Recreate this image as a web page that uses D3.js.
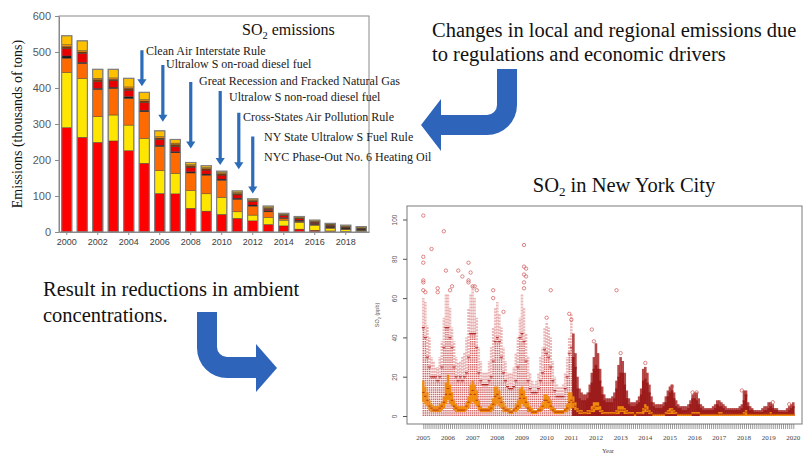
<!DOCTYPE html>
<html>
<head>
<meta charset="utf-8">
<script src="https://cdn.jsdelivr.net/npm/d3@7"></script>
<style>
  body { margin: 0; background: #fff; }
  svg { display: block; }
</style>
</head>
<body>
<svg id="fig" width="803" height="456"></svg>
<script>
// ---------- emissions bars (thousands of tons) ----------
var emisYears = [2000,2001,2002,2003,2004,2005,2006,2007,2008,2009,2010,2011,2012,2013,2014,2015,2016,2017,2018,2019];
var layerKeys = ['power', 'industry', 'heating', 'other', 'commercial', 'mobile', 'offroad', 'misc'];
var power      = [290,263,249,253,226,191,107,106,66,58,49,38,31,21,17,8,5,3,2,1];
var industry   = [153,163,71,72,71,69,63,57,49,48,47,18,16,19,16,19,14,7,5,3];
var heating    = [40,42,76,74,74,74,68,57,49,52,48,35,25,16,5,3,2,2,1,1];
var other      = [6,3,3,3,5,4,3,3,3,3,3,3,3,3,2,3,3,4,3,3];
var commercial = [21,25,19,18,18,21,16,14,13,11,11,9,9,4,6,4,3,2,2,1];
var mobile     = [5,4,5,4,5,5,4,6,4,4,4,4,3,3,2,2,2,2,2,2];
var offroad    = [5,4,4,4,4,4,4,4,3,3,3,3,2,2,1,1,1,1,1,1];
var misc       = [25,27,25,24,24,20,16,10,6,5,4,4,3,4,3,3,3,3,3,3];
var layerColors = ['#ff0000', '#ffe600', '#ff6a00', '#1a1a1a', '#e60000', '#7a3c00', '#ff8c00', '#ffc000'];
var barTicks = [0,100,200,300,400,500,600];
var barYearTicks = [2000,2002,2004,2006,2008,2010,2012,2014,2016,2018];

var notes = ['Clean Air Interstate Rule', 'Ultralow S on-road diesel fuel', 'Great Recession and Fracked Natural Gas',
             'Ultralow S non-road diesel fuel', 'Cross-States Air Pollution Rule', 'NY State Ultralow S Fuel Rule',
             'NYC Phase-Out No. 6 Heating Oil'];
// arrow: year position, top value, tip value (null = no arrow)
var noteArrowYear = [2004.85, 2006.2, 2008.0, 2009.9, 2011.1, 2012.0, null];
var noteArrowTop  = [505, 464, 417, 392, 331, 265, null];
var noteArrowTip  = [405, 306, 232, 186, 174, 107, null];

// ---------- NYC SO2 monthly boxplots (ppb), Jan 2005 .. Jan 2020 ----------
var scatYears = [2005,2006,2007,2008,2009,2010,2011,2012,2013,2014,2015,2016,2017,2018,2019,2020];
var boxLow = [
  7,6,5,3,2,2,2,2,2,3,4,6,
  8,6,5,3,2,2,2,2,2,3,4,6,
  7,6,5,3,2,2,2,2,2,2,3,5,
  6,5,4,2,2,2,1,1,2,2,3,4,
  6,5,4,2,2,1,1,1,2,2,3,4,
  4,4,3,2,1,1,1,1,1,2,2,3,
  4,4,3,2,1,1,1,1,1,1,2,2,
  3,3,2,1,1,1,1,1,1,1,1,1,
  2,2,1,1,1,1,1,0,1,1,1,1,
  2,2,1,1,0,0,0,0,0,0,1,1,
  1,1,1,1,0,0,0,0,0,0,0,1,
  1,1,1,0,0,0,0,0,0,0,0,0,
  0,0,0,0,0,0,0,0,0,0,0,0,
  0,0,0,0,0,0,0,0,0,0,0,0,
  0,0,0,0,0,0,0,0,0,0,0,0,
  0];
var boxMed = [
  12,10,8,5,4,3,3,3,4,5,7,11,
  14,11,8,5,4,3,3,3,3,5,7,11,
  13,11,8,5,3,3,3,3,3,4,6,10,
  11,9,7,4,3,3,2,2,3,4,5,9,
  11,9,7,4,3,2,2,2,3,3,5,8,
  8,7,5,3,2,2,2,2,2,3,4,7,
  8,7,5,3,2,2,1,1,2,2,3,4,
  5,5,3,2,1,1,1,1,1,1,2,3,
  3,3,3,2,1,1,1,1,1,1,1,3,
  4,3,2,1,1,1,1,1,1,1,1,2,
  2,3,2,1,1,1,1,1,1,1,1,1,
  1,1,1,1,1,1,1,1,1,1,1,1,
  1,1,1,1,1,1,1,1,1,1,1,1,
  1,2,1,1,1,1,1,1,1,1,1,1,
  1,1,1,1,1,1,1,1,1,1,1,1,
  1];
var boxHigh = [
  18,15,12,8,6,5,5,5,6,7,10,17,
  21,16,12,8,6,5,5,5,5,7,10,16,
  18,16,13,8,5,4,4,4,5,6,9,15,
  15,13,10,7,5,4,4,3,4,6,8,14,
  15,13,10,7,5,4,3,3,4,5,7,11,
  11,10,8,5,4,3,3,3,3,4,6,12,
  12,10,7,4,3,3,2,2,3,3,5,7,
  7,7,5,3,2,2,2,2,2,2,3,5,
  5,5,4,3,2,2,2,1,2,2,2,4,
  6,5,3,2,1,1,1,1,1,1,2,3,
  4,4,3,2,1,1,1,1,1,1,1,2,
  2,2,2,1,1,1,1,1,1,1,1,1,
  2,2,1,1,1,1,1,1,1,1,1,1,
  2,3,1,1,1,1,1,1,1,1,1,1,
  1,2,1,1,1,1,1,1,1,1,1,1,
  1];
var whiskerTop = [
  45,40,30,25,20,20,20,18,20,25,35,45,
  45,40,35,25,20,18,20,18,20,22,30,42,
  42,42,35,22,18,16,16,16,18,20,28,38,
  40,38,30,22,18,15,14,14,15,18,25,40,
  42,38,28,18,14,12,12,12,14,18,22,34,
  32,30,25,18,13,10,10,10,10,14,20,32,
  35,30,25,14,9,8,8,8,9,12,17,24,
  26,24,18,11,8,7,7,7,7,9,14,20,
  22,22,16,9,6,5,5,5,6,7,11,18,
  19,17,12,7,5,4,4,4,4,5,7,10,
  12,13,9,5,4,4,3,3,3,4,6,9,
  9,8,6,4,3,3,3,3,3,3,4,6,
  5,5,4,3,3,3,3,3,3,3,3,4,
  8,11,5,3,3,2,2,2,2,2,3,3,
  4,5,4,3,3,2,2,2,2,2,3,4,
  5];
var cloudTop = [
  60,58,46,40,30,28,25,25,30,38,50,62,
  62,55,45,38,30,27,28,30,32,40,55,62,
  66,60,50,35,28,22,22,22,28,35,45,55,
  58,52,45,35,28,22,22,22,25,32,40,50,
  62,55,42,30,22,18,16,18,22,30,35,45,
  48,45,40,28,20,16,15,15,16,22,30,40,
  52,42,32,20,14,12,11,11,12,16,22,30,
  37,32,24,15,11,9,9,9,10,12,18,26,
  30,28,22,13,9,7,7,7,8,10,14,24,
  25,22,16,10,7,6,6,6,6,7,10,13,
  15,16,12,8,6,5,5,5,5,6,8,11,
  12,12,9,6,5,4,4,4,4,5,6,8,
  8,7,6,5,4,4,4,4,4,4,5,6,
  13,13,7,5,4,3,3,3,3,4,5,5,
  7,7,6,4,4,3,3,3,3,4,5,6,
  7];
// isolated high readings: [month index from Jan 2005, ppb]
var outliers = [[0,102],[0,81],[0,78],[0,69],[0,68],[0,64],[1,63],[4,85],[10,94],[11,74],[7,65],[7,63],
  [13,64],[14,66],[17,74],[19,71],[22,78],[22,69],[22,68],[23,73],[24,66],[25,66],[26,64],[34,64],[34,60],
  [39,53],[49,87],[49,76],[50,75],[49,72],[50,71],[49,68],[49,65],[62,64],[94,64],[60,50],[71,52],[72,49],
  [82,44],[83,38],[96,32],[108,27],[121,15],[131,12],[133,12],[155,13],[170,7],[178,6]];
var denseFrom = 73;   // hourly record becomes dense from Feb 2011
var scatTicks = [0,20,40,60,80,100];

var serif = '"Liberation Serif", "Times New Roman", serif';
var sans = '"Liberation Sans", Arial, sans-serif';
var svg = d3.select('#fig');

// ================= bar chart =================
var bx0 = 59, bx1 = 369, byTop = 16, byBot = 232;
var xBar = d3.scaleBand().domain(emisYears).range([bx0, bx1]).paddingInner(0.34).paddingOuter(0.17);
var yBar = d3.scaleLinear().domain([0, 600]).range([byBot, byTop]);
var yearPos = d3.scaleLinear().domain([2000, 2019])
  .range([xBar(2000) + xBar.bandwidth() / 2, xBar(2019) + xBar.bandwidth() / 2]);

var layers = [power, industry, heating, other, commercial, mobile, offroad, misc];
var rows = emisYears.map(function(y, i) {
  var r = { year: y };
  layerKeys.forEach(function(k, j) { r[k] = layers[j][i]; });
  return r;
});
var stacked = d3.stack().keys(layerKeys)(rows);

var gBar = svg.append('g');
gBar.selectAll('g.layer')
  .data(stacked)
  .enter()
  .append('g')
  .attr('fill', function(d, i) { return layerColors[i]; })
  .selectAll('rect')
  .data(function(d) { return d; })
  .enter()
  .append('rect')
  .attr('x', function(d) { return xBar(d.data.year); })
  .attr('y', function(d) { return yBar(d[1]); })
  .attr('width', xBar.bandwidth())
  .attr('height', function(d) { return yBar(d[0]) - yBar(d[1]); })
  .attr('stroke', '#3a3a3a')
  .attr('stroke-width', 0.4);

// outline of each bar
gBar.selectAll('rect.outline')
  .data(stacked[stacked.length - 1])
  .enter()
  .append('rect')
  .attr('class', 'outline')
  .attr('x', function(d) { return xBar(d.data.year); })
  .attr('y', function(d) { return yBar(d[1]); })
  .attr('width', xBar.bandwidth())
  .attr('height', function(d) { return yBar(0) - yBar(d[1]); })
  .attr('fill', 'none')
  .attr('stroke', '#808080')
  .attr('stroke-width', 1.2);

// frame
gBar.append('rect')
  .attr('x', bx0).attr('y', byTop)
  .attr('width', bx1 - bx0).attr('height', byBot - byTop)
  .attr('fill', 'none').attr('stroke', '#8a8a8a').attr('stroke-width', 1);

var yAxisBar = gBar.append('g')
  .attr('transform', 'translate(' + bx0 + ',0)')
  .call(d3.axisLeft(yBar).tickValues(barTicks).tickSize(4).tickPadding(4).tickSizeOuter(0));
yAxisBar.selectAll('text').attr('font-family', sans).attr('font-size', 11).attr('fill', '#595959');

var xAxisBar = gBar.append('g')
  .attr('transform', 'translate(0,' + byBot + ')')
  .call(d3.axisBottom(xBar).tickValues(barYearTicks).tickSize(3).tickPadding(4).tickSizeOuter(0));
xAxisBar.selectAll('text').attr('font-family', sans).attr('font-size', 9).attr('fill', '#404040');
[yAxisBar, xAxisBar].forEach(function(a) {
  a.select('.domain').attr('stroke', '#8a8a8a');
  a.selectAll('.tick line').attr('stroke', '#8a8a8a');
});

gBar.append('text')
  .attr('transform', 'translate(22,' + 124 + ') rotate(-90)')
  .attr('text-anchor', 'middle')
  .attr('font-family', serif).attr('font-size', 14).attr('fill', '#111')
  .text('Emissions (thousands of tons)');

var t1 = gBar.append('text')
  .attr('x', 242).attr('y', 35)
  .attr('font-family', serif).attr('font-size', 16).attr('fill', '#111');
t1.append('tspan').text('SO');
t1.append('tspan').attr('font-size', 10.5).attr('dy', 4).text('2');
t1.append('tspan').attr('dy', -4).text(' emissions');

// annotations
var noteX = [146, 166, 199, 229, 243, 264, 264];
var noteY = [55, 68, 84.5, 101, 121, 141, 160.5];
gBar.selectAll('text.note')
  .data(notes)
  .enter()
  .append('text')
  .attr('class', 'note')
  .attr('x', function(d, i) { return noteX[i]; })
  .attr('y', function(d, i) { return noteY[i]; })
  .attr('font-family', serif).attr('font-size', 12).attr('fill', '#1a1a1a')
  .text(function(d) { return d; });

function arrowPath(x, yTop, yTip) {
  var hw = 1.6, head = 4.6, hl = 7;
  return 'M' + (x - hw) + ',' + yTop + 'L' + (x + hw) + ',' + yTop +
    'L' + (x + hw) + ',' + (yTip - hl) + 'L' + (x + head) + ',' + (yTip - hl) +
    'L' + x + ',' + yTip + 'L' + (x - head) + ',' + (yTip - hl) +
    'L' + (x - hw) + ',' + (yTip - hl) + 'Z';
}
gBar.selectAll('path.note-arrow')
  .data(noteArrowYear.filter(function(d) { return d !== null; }))
  .enter()
  .append('path')
  .attr('class', 'note-arrow')
  .attr('fill', '#2c6cb8')
  .attr('d', function(d, i) {
    return arrowPath(yearPos(d), yBar(noteArrowTop[i]), yBar(noteArrowTip[i]));
  });

// ================= captions and big arrows =================
svg.append('text').attr('x', 432).attr('y', 37)
  .attr('font-family', serif).attr('font-size', 20.5).attr('fill', '#111')
  .text('Changes in local and regional emissions due');
svg.append('text').attr('x', 432).attr('y', 61)
  .attr('font-family', serif).attr('font-size', 20.5).attr('fill', '#111')
  .text('to regulations and economic drivers');
svg.append('text').attr('x', 43).attr('y', 296)
  .attr('font-family', serif).attr('font-size', 20.5).attr('fill', '#111')
  .text('Result in reductions in ambient');
svg.append('text').attr('x', 43).attr('y', 322)
  .attr('font-family', serif).attr('font-size', 20.5).attr('fill', '#111')
  .text('concentrations.');

svg.append('path')
  .attr('fill', '#2f64bb')
  .attr('d', 'M497,69 L517,69 L517,105 A30,30 0 0 1 487,135 L441,135 L441,151 L421,125 L441,99 L441,115 L487,115 A10,10 0 0 0 497,105 Z');
svg.append('path')
  .attr('fill', '#2f64bb')
  .attr('d', 'M197,312 L217,312 L217,347 A10,10 0 0 0 227,357 L256,357 L256,344 L277,368 L256,392 L256,378 L227,378 A30,30 0 0 1 197,348 Z');

// ================= NYC SO2 panel =================
var sx0 = 407, sx1 = 802, syTop = 206, syBot = 424;
var xS = d3.scaleLinear().domain([0, 180]).range([423.3, 793.3]);
var yS = d3.scaleLinear().domain([0, 100]).range([416, 219.5]);
var gS = svg.append('g');

var months = boxHigh.map(function(d, i) { return i; });
function early(m) { return m < denseFrom; }

// cloud of outlying hourly readings
gS.selectAll('line.cloud')
  .data(months)
  .enter()
  .append('line')
  .attr('x1', function(m) { return xS(m); }).attr('x2', function(m) { return xS(m); })
  .attr('y1', function(m) { return yS(whiskerTop[m]) + 2; }).attr('y2', function(m) { return yS(cloudTop[m]); })
  .attr('stroke', function(m) { return early(m) ? '#dd8a8a' : '#a82a2a'; })
  .attr('stroke-opacity', function(m) { return early(m) ? 0.6 : 0.85; })
  .attr('stroke-width', 2.6)
  .attr('stroke-dasharray', function(m) { return early(m) ? '2,1' : null; });

// whiskers (0 .. whisker top)
gS.selectAll('line.whisk')
  .data(months)
  .enter()
  .append('line')
  .attr('x1', function(m) { return xS(m); }).attr('x2', function(m) { return xS(m); })
  .attr('y1', yS(0)).attr('y2', function(m) { return yS(whiskerTop[m]); })
  .attr('stroke', function(m) { return early(m) ? '#d46a6a' : '#9c1b1b'; })
  .attr('stroke-width', function(m) { return early(m) ? 1.5 : 2.6; })
  .attr('stroke-dasharray', function(m) { return early(m) ? '1.5,0.8' : null; });

// whisker staples
gS.selectAll('line.staple')
  .data(months.filter(early))
  .enter()
  .append('line')
  .attr('x1', function(m) { return xS(m) - 1.5; }).attr('x2', function(m) { return xS(m) + 1.5; })
  .attr('y1', function(m) { return yS(whiskerTop[m]); }).attr('y2', function(m) { return yS(whiskerTop[m]); })
  .attr('stroke', '#b02828').attr('stroke-width', 1);

// outliers
gS.selectAll('circle.out')
  .data(outliers)
  .enter()
  .append('circle')
  .attr('cx', function(d) { return xS(d[0]); })
  .attr('cy', function(d) { return yS(d[1]); })
  .attr('r', 1.7)
  .attr('fill', 'none')
  .attr('stroke', '#d05454')
  .attr('stroke-width', 0.7);

// boxes and medians
gS.selectAll('rect.box')
  .data(months)
  .enter()
  .append('rect')
  .attr('x', function(m) { return xS(m) - 1.15; })
  .attr('width', 2.3)
  .attr('y', function(m) { return yS(boxHigh[m]); })
  .attr('height', function(m) { return Math.max(0.8, yS(boxLow[m]) - yS(boxHigh[m])); })
  .attr('fill', '#f08a0c');
gS.selectAll('line.med')
  .data(months)
  .enter()
  .append('line')
  .attr('x1', function(m) { return xS(m) - 1.2; }).attr('x2', function(m) { return xS(m) + 1.2; })
  .attr('y1', function(m) { return yS(boxMed[m]); }).attr('y2', function(m) { return yS(boxMed[m]); })
  .attr('stroke', '#b3300e').attr('stroke-width', 0.9);

// frame and axes
gS.append('rect')
  .attr('x', sx0).attr('y', syTop).attr('width', sx1 - sx0).attr('height', syBot - syTop)
  .attr('fill', 'none').attr('stroke', '#7a7a7a').attr('stroke-width', 1);

var yAxS = gS.append('g')
  .attr('transform', 'translate(' + sx0 + ',0)')
  .call(d3.axisLeft(yS).tickValues(scatTicks).tickSize(4).tickSizeOuter(0));
yAxS.select('.domain').remove();
yAxS.selectAll('.tick line').attr('stroke', '#555');
yAxS.selectAll('text')
  .attr('font-family', sans).attr('font-size', 6.5).attr('fill', '#555')
  .attr('text-anchor', 'middle').attr('dy', 0)
  .attr('transform', 'translate(-10,0) rotate(-90)')
  .attr('x', 0).attr('y', 0);

var xAxS = gS.append('g')
  .attr('transform', 'translate(0,' + syBot + ')')
  .call(d3.axisBottom(xS).tickValues(months).tickSize(5).tickFormat('').tickSizeOuter(0));
xAxS.select('.domain').remove();
xAxS.selectAll('.tick line').attr('stroke', '#555').attr('stroke-width', 0.6);

gS.selectAll('text.yr')
  .data(scatYears)
  .enter()
  .append('text')
  .attr('x', function(d, i) { return xS(i * 12); })
  .attr('y', 439.5)
  .attr('text-anchor', 'middle')
  .attr('font-family', serif).attr('font-size', 7).attr('fill', '#444')
  .text(function(d) { return d; });

gS.append('text').attr('x', 608).attr('y', 453)
  .attr('text-anchor', 'middle')
  .attr('font-family', serif).attr('font-size', 6.5).attr('fill', '#444')
  .text('Year');

var ylab = gS.append('text')
  .attr('transform', 'translate(379,315) rotate(-90)')
  .attr('text-anchor', 'middle')
  .attr('font-family', sans).attr('font-size', 5.5).attr('fill', '#555');
ylab.append('tspan').text('SO');
ylab.append('tspan').attr('font-size', 4).attr('dy', 1.5).text('2');
ylab.append('tspan').attr('dy', -1.5).text(' (ppb)');

var t2 = gS.append('text')
  .attr('x', 624).attr('y', 192)
  .attr('text-anchor', 'middle')
  .attr('font-family', serif).attr('font-size', 20.5).attr('fill', '#111');
t2.append('tspan').text('SO');
t2.append('tspan').attr('font-size', 13).attr('dy', 4).text('2');
t2.append('tspan').attr('dy', -4).text(' in New York City');
</script>
</body>
</html>
